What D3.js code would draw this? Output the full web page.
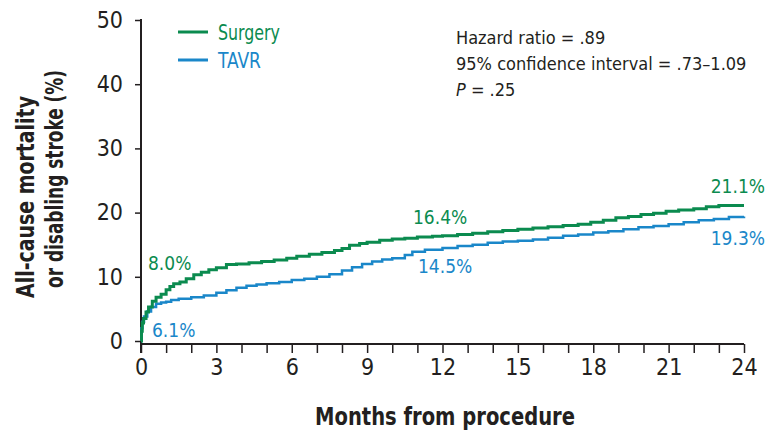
<!DOCTYPE html>
<html>
<head>
<meta charset="utf-8">
<script src="https://cdn.jsdelivr.net/npm/d3@7"></script>
<style>
  html, body { margin: 0; padding: 0; background: #fff; }
  svg { display: block; }
  text { font-family: "DejaVu Sans Condensed", "Liberation Sans Narrow", "Open Sans", sans-serif; }
</style>
</head>
<body>
<svg id="chart" width="766" height="434"></svg>
<script>
// ---- data ----
const seriesNames = ["Surgery", "TAVR"];
const surgeryMonths = [0, 0.02, 0.05, 0.1, 0.2, 0.3, 0.45, 0.6, 0.8, 1.0, 1.15, 1.3, 1.55, 1.8, 2.1, 2.4, 2.7, 3.0, 3.4, 3.8, 4.3, 4.8, 5.3, 5.8, 6.2, 6.7, 7.2, 7.7, 8.0, 8.3, 8.7, 9.0, 9.5, 10.0, 10.5, 11.0, 11.6, 12.0, 12.6, 13.2, 13.8, 14.4, 15.0, 15.6, 16.2, 16.8, 17.4, 17.9, 18.4, 18.9, 19.4, 19.9, 20.4, 20.9, 21.4, 22.0, 22.5, 23.0, 24.0];
const surgeryValues = [0, 1.5, 2.8, 3.5, 4.5, 5.3, 6.2, 6.8, 7.3, 8.0, 8.5, 8.9, 9.2, 9.7, 10.3, 10.7, 11.1, 11.4, 11.9, 12.0, 12.2, 12.4, 12.6, 12.9, 13.2, 13.5, 13.8, 14.1, 14.4, 14.9, 15.2, 15.4, 15.7, 15.9, 16.0, 16.2, 16.3, 16.4, 16.6, 16.8, 17.0, 17.2, 17.4, 17.6, 17.8, 18.0, 18.2, 18.5, 18.8, 19.2, 19.4, 19.7, 19.9, 20.2, 20.4, 20.6, 20.9, 21.1, 21.1];
const tavrMonths = [0, 0.02, 0.06, 0.12, 0.25, 0.4, 0.6, 0.8, 1.0, 1.2, 1.5, 2.0, 2.5, 3.0, 3.4, 3.8, 4.2, 4.6, 5.0, 5.5, 6.0, 6.5, 7.0, 7.5, 8.0, 8.4, 8.8, 9.2, 9.6, 10.0, 10.5, 10.8, 11.3, 12.0, 12.6, 13.2, 13.8, 14.4, 15.0, 15.6, 16.2, 16.8, 17.4, 18.0, 18.6, 19.2, 19.8, 20.4, 21.0, 21.6, 22.2, 22.8, 23.4, 24.0];
const tavrValues = [0, 2.0, 3.0, 3.8, 4.6, 5.3, 5.8, 6.0, 6.1, 6.4, 6.6, 6.8, 7.1, 7.5, 7.9, 8.3, 8.6, 8.8, 9.0, 9.2, 9.5, 9.7, 10.0, 10.4, 11.0, 11.5, 12.0, 12.4, 12.7, 12.9, 13.4, 13.9, 14.2, 14.5, 14.8, 15.0, 15.3, 15.5, 15.6, 15.8, 16.1, 16.4, 16.6, 16.9, 17.1, 17.4, 17.7, 17.9, 18.2, 18.5, 18.8, 19.0, 19.3, 19.4];
const xTicks = [0, 3, 6, 9, 12, 15, 18, 21, 24];
const yTicks = [0, 10, 20, 30, 40, 50];
const pointLabels = [
  { series: "Surgery", month: 1, text: "8.0%" },
  { series: "TAVR", month: 1, text: "6.1%" },
  { series: "Surgery", month: 12, text: "16.4%" },
  { series: "TAVR", month: 12, text: "14.5%" },
  { series: "Surgery", month: 24, text: "21.1%" },
  { series: "TAVR", month: 24, text: "19.3%" }
];
const statsLines = ["Hazard ratio = .89", "95% confidence interval = .73\u20131.09", "P = .25"];

// ---- styles ----
const GREEN = "#0b8b4f";
const BLUE = "#1a87c9";
const INK = "#231f20";
const colors = { Surgery: GREEN, TAVR: BLUE };

const svg = d3.select("#chart");
const x = d3.scaleLinear().domain([0, 24]).range([141, 744]);
const y = d3.scaleLinear().domain([0, 50]).range([341, 20]);

// helper: text squeezed to a given width (condensed look)
function fitText(sel, w) {
  return sel.attr("textLength", w).attr("lengthAdjust", "spacingAndGlyphs");
}

// x axis
const xAxisY = y(0) + 3;
const xAxis = d3.axisBottom(x).tickValues(d3.range(0, 25, 1)).tickSize(9)
  .tickFormat(d => xTicks.includes(d) ? d : "").tickPadding(6);
const gx = svg.append("g").attr("transform", `translate(0,${xAxisY})`).call(xAxis);
gx.select(".domain").attr("stroke", INK).attr("stroke-width", 2).attr("d", `M${x(0)},0H${x(24)}`);
gx.selectAll(".tick line").attr("stroke", INK).attr("stroke-width", 1.5);
gx.selectAll(".tick text").attr("font-size", 23).attr("fill", INK).attr("font-family", null);

// y axis
const yAxis = d3.axisLeft(y).tickValues(yTicks).tickSize(6).tickPadding(12);
const gy = svg.append("g").attr("transform", `translate(${x(0)},0)`).call(yAxis);
gy.select(".domain").attr("stroke", INK).attr("stroke-width", 2).attr("d", `M0,${y(50) - 1}V${xAxisY + 9}`);
gy.selectAll(".tick line").attr("stroke", INK).attr("stroke-width", 1.5);
gy.selectAll(".tick text").attr("font-size", 23).attr("fill", INK).attr("font-family", null);

// axis titles
fitText(svg.append("text").attr("x", 445).attr("y", 425).attr("text-anchor", "middle")
  .attr("font-size", 25).attr("font-weight", "bold").attr("fill", INK).text("Months from procedure"), 260);
fitText(svg.append("text").attr("transform", "translate(34,197) rotate(-90)").attr("text-anchor", "middle")
  .attr("font-size", 25).attr("font-weight", "bold").attr("fill", INK).text("All-cause mortality"), 202);
fitText(svg.append("text").attr("transform", "translate(63,179) rotate(-90)").attr("text-anchor", "middle")
  .attr("font-size", 25).attr("font-weight", "bold").attr("fill", INK).text("or disabling stroke (%)"), 218);

// curves
const seriesData = {
  Surgery: surgeryMonths.map((m, i) => [m, surgeryValues[i]]),
  TAVR: tavrMonths.map((m, i) => [m, tavrValues[i]])
};
const line = d3.line().x(d => x(d[0])).y(d => y(d[1])).curve(d3.curveStepAfter);
svg.append("path").datum(seriesData.TAVR).attr("d", line).attr("fill", "none")
  .attr("stroke", BLUE).attr("stroke-width", 2.5);
svg.append("path").datum(seriesData.Surgery).attr("d", line).attr("fill", "none")
  .attr("stroke", GREEN).attr("stroke-width", 3);

// legend
const legendW = { Surgery: 62, TAVR: 43 };
seriesNames.forEach((name, i) => {
  const ly = 32 + i * 28;
  svg.append("line").attr("x1", 178).attr("x2", 208).attr("y1", ly).attr("y2", ly)
    .attr("stroke", colors[name]).attr("stroke-width", 3);
  fitText(svg.append("text").attr("x", 218).attr("y", ly + 8).attr("font-size", 21)
    .attr("fill", colors[name]).text(name), legendW[name]);
});

// stats
statsLines.forEach((t, i) => {
  const tx = svg.append("text").attr("x", 456).attr("y", 44 + i * 26).attr("font-size", 18).attr("fill", INK);
  if (t.startsWith("P ")) {
    tx.append("tspan").attr("font-style", "italic").text("P");
    tx.append("tspan").text(t.slice(1));
  } else {
    tx.text(t);
  }
});

// point labels
const labelPos = {
  "Surgery-1": [148, 270, "start"], "TAVR-1": [152, 337, "start"],
  "Surgery-12": [413, 224, "start"], "TAVR-12": [418, 273, "start"],
  "Surgery-24": [765, 193, "end"], "TAVR-24": [765, 245, "end"]
};
pointLabels.forEach(p => {
  const pos = labelPos[p.series + "-" + p.month];
  svg.append("text").attr("x", pos[0]).attr("y", pos[1]).attr("text-anchor", pos[2])
    .attr("font-size", 19).attr("fill", colors[p.series]).text(p.text);
});
</script>
</body>
</html>
